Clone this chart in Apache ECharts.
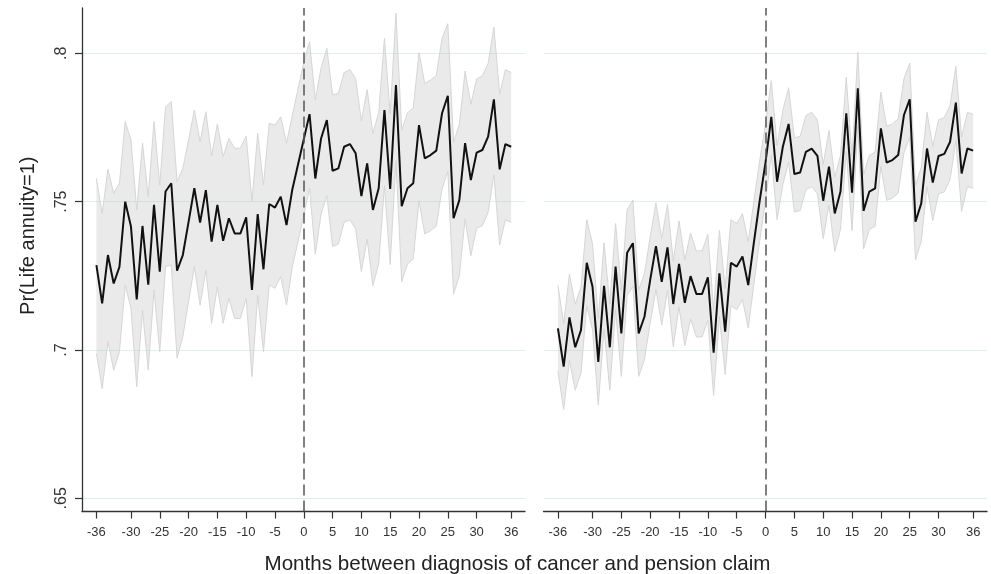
<!DOCTYPE html>
<html><head><meta charset="utf-8">
<script src="https://cdn.jsdelivr.net/npm/echarts@6/dist/echarts.min.js"></script>
<style>html,body{margin:0;padding:0;background:#fff}#c{width:991px;height:574px}</style>
</head><body><div id="c"></div>
<script>
const months = [-36,-35,-34,-33,-32,-31,-30,-29,-28,-27,-26,-25,-24,-23,-22,-21,-20,-19,-18,-17,-16,-15,-14,-13,-12,-11,-10,-9,-8,-7,-6,-5,-4,-3,-2,-1,0,1,2,3,4,5,6,7,8,9,10,11,12,13,14,15,16,17,18,19,20,21,22,23,24,25,26,27,28,29,30,31,32,33,34,35,36];

const xTickValues = [-36,-30,-25,-20,-15,-10,-5,0,5,10,15,20,25,30,36];
const yTickValues = [0.65,0.7,0.75,0.8];
const yTickLabels = ['.65','.7','.75','.8'];

const leftValue = [0.7286,0.7157,0.7320,0.7224,0.7280,0.7500,0.7416,0.7170,0.7418,0.7220,0.7489,0.7264,0.7534,0.7562,0.7267,0.7320,0.7432,0.7545,0.7429,0.7539,0.7365,0.7489,0.7368,0.7444,0.7393,0.7393,0.7447,0.7202,0.7458,0.7272,0.7492,0.7480,0.7517,0.7421,0.7540,0.7625,0.7710,0.7795,
  0.7578,0.7713,0.7775,0.7604,0.7612,0.7685,0.7694,0.7663,0.7519,0.7629,0.7472,0.7545,0.7809,0.7543,0.7893,0.7485,0.7545,0.7562,0.7758,0.7646,0.7657,0.7672,0.7798,0.7857,0.7444,0.7505,0.7697,0.7573,0.7665,0.7674,0.7719,0.7845,0.7609,0.7694,0.7685];
const leftUpper = [0.7579,0.7460,0.7609,0.7528,0.7562,0.7770,0.7708,0.7472,0.7697,0.7517,0.7770,0.7556,0.7820,0.7837,0.7567,0.7612,0.7708,0.7809,0.7702,0.7803,0.7654,0.7762,0.7652,0.7713,0.7680,0.7680,0.7721,0.7500,0.7730,0.7556,0.7764,0.7758,0.7786,0.7697,0.7790,0.7880,0.7970,0.8039,
  0.7843,0.7950,0.8017,0.7860,0.7865,0.7935,0.7945,0.7915,0.7772,0.7878,0.7730,0.7800,0.8050,0.7795,0.8135,0.7740,0.7800,0.7815,0.8002,0.7898,0.7910,0.7925,0.8050,0.8100,0.7700,0.7760,0.7940,0.7828,0.7914,0.7924,0.7966,0.8088,0.7862,0.7945,0.7935];
const leftLower = [0.6988,0.6870,0.7028,0.6932,0.6994,0.7219,0.7140,0.6876,0.7134,0.6932,0.7202,0.6994,0.7281,0.7286,0.6972,0.7045,0.7163,0.7281,0.7151,0.7269,0.7090,0.7213,0.7090,0.7174,0.7106,0.7106,0.7174,0.6910,0.7185,0.6994,0.7219,0.7208,0.7247,0.7151,0.7280,0.7365,0.7455,0.7545,
  0.7323,0.7458,0.7520,0.7349,0.7357,0.7430,0.7439,0.7408,0.7264,0.7374,0.7217,0.7290,0.7554,0.7288,0.7638,0.7230,0.7290,0.7307,0.7503,0.7391,0.7402,0.7417,0.7543,0.7602,0.7189,0.7250,0.7442,0.7318,0.7410,0.7419,0.7464,0.7590,0.7354,0.7439,0.7430];

const rightValue = [0.7073,0.6944,0.7110,0.7009,0.7067,0.7294,0.7213,0.6960,0.7216,0.7009,0.7281,0.7056,0.7328,0.7360,0.7056,0.7112,0.7236,0.7350,0.7230,0.7346,0.7155,0.7290,0.7159,0.7249,0.7189,0.7189,0.7245,0.6991,0.7258,0.7062,0.7294,0.7281,0.7315,0.7219,0.7365,0.7505,0.7632,0.7786,
  0.7567,0.7685,0.7762,0.7593,0.7598,0.7668,0.7679,0.7654,0.7503,0.7618,0.7460,0.7534,0.7798,0.7530,0.7882,0.7469,0.7534,0.7545,0.7747,0.7632,0.7640,0.7657,0.7792,0.7845,0.7432,0.7494,0.7679,0.7564,0.7654,0.7661,0.7702,0.7834,0.7595,0.7679,0.7672];
const rightUpper = [0.7218,0.7089,0.7255,0.7154,0.7212,0.7439,0.7358,0.7105,0.7361,0.7154,0.7426,0.7201,0.7473,0.7505,0.7201,0.7257,0.7381,0.7495,0.7375,0.7491,0.7300,0.7435,0.7304,0.7394,0.7334,0.7334,0.7390,0.7136,0.7403,0.7207,0.7439,0.7426,0.7460,0.7364,0.7505,0.7640,0.7762,0.7908,
  0.7689,0.7807,0.7884,0.7715,0.7720,0.7790,0.7801,0.7776,0.7625,0.7740,0.7582,0.7656,0.7920,0.7652,0.8004,0.7591,0.7656,0.7667,0.7869,0.7754,0.7762,0.7779,0.7914,0.7967,0.7554,0.7616,0.7801,0.7686,0.7776,0.7783,0.7824,0.7956,0.7717,0.7801,0.7794];
const rightLower = [0.6928,0.6799,0.6965,0.6864,0.6922,0.7149,0.7068,0.6815,0.7071,0.6864,0.7136,0.6911,0.7183,0.7215,0.6911,0.6967,0.7091,0.7205,0.7085,0.7201,0.7010,0.7145,0.7014,0.7104,0.7044,0.7044,0.7100,0.6846,0.7113,0.6917,0.7149,0.7136,0.7170,0.7074,0.7225,0.7370,0.7502,0.7658,
  0.7439,0.7557,0.7634,0.7465,0.7470,0.7540,0.7551,0.7526,0.7375,0.7490,0.7332,0.7406,0.7670,0.7402,0.7754,0.7341,0.7406,0.7417,0.7619,0.7504,0.7512,0.7529,0.7664,0.7717,0.7304,0.7366,0.7551,0.7436,0.7526,0.7533,0.7574,0.7706,0.7467,0.7551,0.7544];

const FONT = 'Liberation Sans, Arial, Helvetica, sans-serif';
const X_MIN = -38.5, X_MAX = 38.4;
const Y_MIN = 0.64555, Y_MAX = 0.81527;

const pairs = arr => months.map((m, i) => [m, arr[i]]);

function xAxisFor(idx) {
  return {
    type: 'value', gridIndex: idx, min: X_MIN, max: X_MAX,
    axisLine: { show: true, onZero: false, lineStyle: { color: '#333', width: 1.3 } },
    axisTick: { show: true, length: 7, customValues: xTickValues, lineStyle: { color: '#333', width: 1.2 } },
    axisLabel: { customValues: xTickValues, margin: 14, fontSize: 13, color: '#333', fontFamily: FONT,
      formatter: v => String(v) },
    splitLine: { show: false }
  };
}
function yAxisFor(idx, showAxis) {
  const ax = {
    type: 'value', gridIndex: idx, min: Y_MIN, max: Y_MAX,
    axisLine: { show: showAxis, onZero: false, lineStyle: { color: '#333', width: 1.3 } },
    axisTick: { show: showAxis, length: 7, customValues: yTickValues, lineStyle: { color: '#333', width: 1.2 } },
    axisLabel: { show: showAxis, customValues: yTickValues, rotate: 90, margin: 12, fontSize: 16, color: '#333', fontFamily: FONT,
      formatter: v => { const k = yTickValues.findIndex(t => Math.abs(t - v) < 1e-6); return k >= 0 ? yTickLabels[k] : ''; } },
    splitLine: { show: true, lineStyle: { color: '#e2eded', width: 1 } }
  };
  if (showAxis) {
    ax.name = 'Pr(Life annuity=1)';
    ax.nameLocation = 'middle';
    ax.nameGap = 44;
    ax.nameTextStyle = { fontSize: 20, color: '#222', fontFamily: FONT, padding: [0, 0, 0, 48] };
  }
  return ax;
}

function bandSeries(idx, upper, lower) {
  return {
    type: 'custom', xAxisIndex: idx, yAxisIndex: idx, silent: true, z: 1,
    data: [[0, 0]],
    renderItem: function (params, api) {
      const up = months.map((m, i) => api.coord([m, upper[i]]));
      const lo = months.map((m, i) => api.coord([m, lower[i]]));
      const poly = up.concat(lo.slice().reverse());
      return {
        type: 'group',
        children: [
          { type: 'polygon', shape: { points: poly }, style: { fill: 'rgba(185,185,185,0.3)', stroke: null } },
          { type: 'polyline', shape: { points: up }, style: { fill: null, stroke: '#d6d6d6', lineWidth: 1 } },
          { type: 'polyline', shape: { points: lo }, style: { fill: null, stroke: '#d6d6d6', lineWidth: 1 } }
        ]
      };
    }
  };
}

function lineSeries(idx, value) {
  return {
    type: 'line', xAxisIndex: idx, yAxisIndex: idx, data: pairs(value),
    symbol: 'none', lineStyle: { color: '#111', width: 2 }, silent: true, z: 3,
    markLine: { silent: true, symbol: ['none', 'none'], label: { show: false },
      lineStyle: { type: [11, 5], color: '#555', width: 1.5 },
      data: [{ xAxis: 0 }], animation: false }
  };
}

const chart = echarts.init(document.getElementById('c'), null, { renderer: 'canvas' });
chart.setOption({
  animation: false,
  backgroundColor: '#fff',
  title: { text: 'Months between diagnosis of cancer and pension claim', left: 512.5, top: 549, textAlign: 'center',
    textStyle: { fontSize: 20.6, fontWeight: 'normal', color: '#222', fontFamily: FONT } },
  grid: [
    { left: 82, top: 8, width: 443, height: 503.5, containLabel: false },
    { left: 543.5, top: 8, width: 443.5, height: 503.5, containLabel: false }
  ],
  xAxis: [xAxisFor(0), xAxisFor(1)],
  yAxis: [yAxisFor(0, true), yAxisFor(1, false)],
  series: [bandSeries(0, leftUpper, leftLower), lineSeries(0, leftValue),
           bandSeries(1, rightUpper, rightLower), lineSeries(1, rightValue)]
});
</script></body></html>
